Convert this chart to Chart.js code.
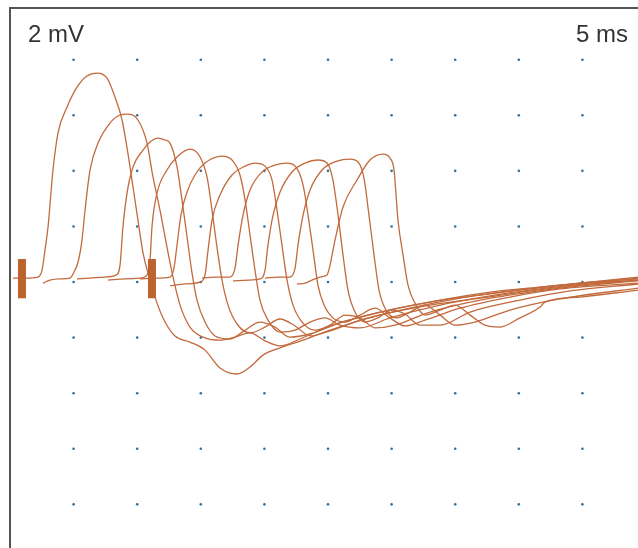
<!DOCTYPE html>
<html>
<head>
<meta charset="utf-8">
<script src="https://cdn.jsdelivr.net/npm/chart.js@4.4.1/dist/chart.umd.min.js"></script>
<style>
  html, body { margin: 0; padding: 0; background: #fff; overflow: hidden; }
  #wrap { width: 638px; height: 548px; }
  canvas { display: block; }
</style>
</head>
<body>
<div id="wrap"><canvas id="myChart" width="638" height="548"></canvas></div>
<script>
// sweeps, x in ms, y in mV
const sweep1 = [[0.24,0.14],[1.18,0.14],[2.20,0.18],[2.52,0.43],[2.75,1.15],[2.99,1.98],[3.38,4.03],[3.77,5.36],[4.48,6.29],[5.27,7.01],[6.05,7.41],[6.84,7.52],[7.63,7.34],[8.26,6.65],[8.81,5.83],[9.28,4.60],[9.67,3.42],[10.06,2.23],[10.46,1.04],[11.01,0.07],[11.56,-0.76],[12.19,-1.44],[12.97,-1.94],[14.15,-2.16],[15.33,-2.45],[16.51,-3.09],[17.85,-3.31],[18.87,-3.06],[19.89,-2.63],[21.23,-2.37],[23.04,-2.09],[25.16,-1.73],[29.09,-1.19],[33.02,-0.83],[36.95,-0.58],[40.88,-0.32],[44.81,-0.11],[49.37,0.07]]
const sweep2 = [[2.59,-0.04],[3.14,0.07],[3.93,0.11],[4.72,0.14],[5.03,0.36],[5.35,0.72],[5.66,1.51],[5.90,2.59],[6.29,4.03],[6.92,5.00],[7.86,5.72],[8.65,6.01],[9.20,6.04],[10.06,5.83],[10.77,5.00],[11.24,3.78],[11.79,2.59],[12.34,1.26],[12.82,0.18],[13.37,-0.83],[14.15,-1.62],[15.33,-2.01],[16.51,-2.09],[17.69,-1.98],[18.87,-1.83],[20.05,-2.12],[21.23,-2.30],[22.80,-2.05],[25.16,-1.58],[29.09,-1.08],[33.02,-0.72],[36.95,-0.47],[40.88,-0.25],[44.81,-0.04],[49.37,0.18]]
const sweep3 = [[5.27,0.11],[6.29,0.14],[7.47,0.18],[8.33,0.25],[8.65,0.61],[8.88,1.98],[9.20,3.20],[9.67,4.14],[10.46,4.75],[11.01,5.04],[11.64,5.18],[12.19,5.11],[12.58,5.00],[13.13,4.14],[13.52,2.95],[13.92,1.62],[14.31,0.32],[14.70,-0.65],[15.33,-1.44],[16.12,-1.94],[17.30,-2.05],[18.48,-1.73],[19.65,-1.44],[20.83,-1.62],[22.01,-1.98],[23.59,-1.87],[25.94,-1.47],[29.87,-1.01],[33.81,-0.65],[37.74,-0.36],[41.67,-0.18],[45.60,0.00],[49.37,0.11]]
const sweep4 = [[7.70,0.07],[9.04,0.11],[10.22,0.14],[10.77,0.25],[11.01,0.79],[11.16,1.98],[11.56,3.20],[12.34,4.03],[13.13,4.50],[14.15,4.78],[14.94,4.50],[15.49,3.78],[15.88,2.59],[16.27,1.26],[16.67,0.07],[17.14,-0.83],[17.85,-1.51],[18.87,-1.83],[20.05,-1.62],[21.23,-1.33],[22.41,-1.58],[23.59,-1.94],[25.16,-1.76],[27.52,-1.37],[31.45,-0.94],[35.38,-0.58],[39.31,-0.32],[43.24,-0.11],[49.37,0.07]]
const sweep5 = [[10.22,0.11],[11.40,0.14],[12.58,0.18],[12.89,0.50],[13.13,1.33],[13.44,2.41],[13.92,3.24],[14.54,3.85],[15.33,4.28],[16.67,4.53],[17.45,4.39],[18.08,3.85],[18.48,2.95],[18.87,1.69],[19.26,0.43],[19.65,-0.65],[20.28,-1.37],[21.23,-1.80],[22.41,-1.73],[23.59,-1.44],[24.77,-1.29],[25.94,-1.55],[27.52,-1.65],[29.87,-1.29],[33.81,-0.83],[37.74,-0.50],[41.67,-0.25],[45.60,-0.04],[49.37,0.14]]
const sweep6 = [[12.58,-0.14],[13.76,-0.07],[14.94,0.00],[15.33,0.25],[15.57,1.15],[15.88,2.23],[16.51,3.13],[17.45,3.85],[18.48,4.17],[19.26,4.28],[20.05,4.17],[20.60,3.67],[20.99,2.59],[21.38,1.33],[21.78,0.07],[22.25,-0.83],[22.96,-1.44],[23.98,-1.73],[25.16,-1.55],[26.34,-1.19],[27.52,-1.29],[28.70,-1.65],[30.27,-1.55],[33.02,-1.08],[36.95,-0.65],[40.88,-0.36],[44.81,-0.14],[49.37,0.04]]
const sweep7 = [[15.09,0.14],[16.12,0.18],[17.30,0.18],[17.69,0.50],[17.93,1.33],[18.32,2.41],[18.87,3.31],[19.81,3.96],[20.83,4.21],[21.78,4.28],[22.48,4.14],[23.04,3.49],[23.43,2.41],[23.82,1.15],[24.21,-0.11],[24.69,-0.83],[25.39,-1.29],[26.34,-1.44],[27.52,-1.19],[28.70,-0.94],[29.87,-1.29],[31.05,-1.58],[32.63,-1.37],[35.38,-0.94],[39.31,-0.54],[43.24,-0.25],[49.37,-0.04]]
const sweep8 = [[17.53,0.04],[18.71,0.07],[19.65,0.11],[20.05,0.43],[20.28,1.33],[20.68,2.41],[21.23,3.24],[22.17,3.96],[23.19,4.28],[24.21,4.39],[24.92,4.28],[25.39,3.67],[25.79,2.41],[26.18,0.97],[26.57,-0.29],[27.12,-1.08],[27.91,-1.44],[28.93,-1.29],[30.03,-1.01],[31.05,-1.15],[32.23,-1.55],[33.81,-1.55],[36.17,-1.08],[40.10,-0.65],[44.03,-0.32],[49.37,-0.07]]
const sweep9 = [[20.05,0.14],[21.07,0.18],[22.01,0.18],[22.41,0.50],[22.64,1.33],[23.04,2.41],[23.59,3.31],[24.53,4.03],[25.71,4.35],[26.73,4.42],[27.36,4.32],[27.83,3.74],[28.22,2.41],[28.62,0.97],[29.01,-0.29],[29.56,-1.01],[30.35,-1.29],[31.45,-1.08],[32.63,-0.83],[33.81,-1.19],[34.99,-1.55],[36.56,-1.44],[39.31,-1.01],[43.24,-0.61],[49.37,-0.22]]
const sweep10 = [[22.56,-0.07],[23.19,-0.04],[23.74,0.07],[24.37,0.18],[24.92,0.25],[25.16,0.61],[25.47,1.33],[26.18,2.70],[27.28,3.67],[28.30,4.39],[29.32,4.60],[29.87,4.46],[30.19,4.03],[30.50,2.23],[30.90,0.97],[31.29,-0.11],[31.84,-0.76],[32.63,-1.19],[33.81,-1.01],[34.99,-0.83],[36.17,-1.19],[37.34,-1.55],[38.52,-1.62],[40.10,-1.29],[41.67,-0.90],[42.06,-0.72],[44.81,-0.54],[49.37,-0.29]]

// stimulus marks (ms) and their extent (mV)
const stimTimes = [0.94, 11.16]
const stimRange = [0.83, -0.58]

// dot grid: 5 ms and 2 mV per division
const gridMs = [5, 10, 15, 20, 25, 30, 35, 40, 45]
const gridMv = [8, 6, 4, 2, 0, -2, -4, -6, -8]

const xMin = 0, xMax = 49.37
const yMin = -9.57, yMax = 9.86

const sweeps = [sweep1, sweep2, sweep3, sweep4, sweep5, sweep6, sweep7, sweep8, sweep9, sweep10]
const traceColor = '#c26a3c'
const stimColor = '#bb6430'

let datasets = []

stimTimes.forEach(function (t) {
    datasets.push({
        data: [{x: t, y: stimRange[0]}, {x: t, y: stimRange[1]}],
        showLine: true,
        borderColor: stimColor,
        borderWidth: 8,
        borderCapStyle: 'butt',
        pointRadius: 0,
        order: 0
    })
})

sweeps.forEach(function (s) {
    datasets.push({
        data: s.map(p => ({x: p[0], y: p[1]})),
        showLine: true,
        borderColor: traceColor,
        borderWidth: 1.3,
        cubicInterpolationMode: 'monotone',
        pointRadius: 0,
        order: 1
    })
})

let dots = []
gridMv.forEach(function (v) {
    gridMs.forEach(function (t) { dots.push({x: t, y: v}) })
})
datasets.push({
    data: dots,
    pointRadius: 1.3,
    pointBackgroundColor: '#2f6f98',
    pointBorderWidth: 0,
    order: 2
})

// frame (left + top) and the two scale labels
const framePlugin = {
    id: 'frame',
    beforeDatasetsDraw(chart) {
        const ctx = chart.ctx
        const a = chart.chartArea
        ctx.save()
        ctx.strokeStyle = '#555'
        ctx.lineWidth = 2
        ctx.beginPath()
        ctx.moveTo(a.left, a.bottom)
        ctx.lineTo(a.left, a.top)
        ctx.lineTo(a.right, a.top)
        ctx.stroke()
        ctx.fillStyle = '#333'
        ctx.font = '24px "Liberation Sans", Arial, sans-serif'
        ctx.textBaseline = 'alphabetic'
        ctx.textAlign = 'left'
        ctx.fillText('2 mV', a.left + 18, a.top + 34)
        ctx.textAlign = 'right'
        ctx.fillText('5 ms', a.right - 10, a.top + 34)
        ctx.restore()
    }
}

const ctx = document.getElementById('myChart')
myChart = new Chart(ctx, {
    type: 'scatter',
    data: { datasets: datasets },
    options: {
        responsive: false,
        animation: false,
        layout: { autoPadding: false, padding: { left: 10, top: 8, right: 0, bottom: 0 } },
        plugins: { legend: { display: false }, tooltip: { enabled: false } },
        scales: {
            x: { type: 'linear', display: false, min: xMin, max: xMax },
            y: { type: 'linear', display: false, min: yMin, max: yMax }
        }
    },
    plugins: [framePlugin]
})
</script>
</body>
</html>
